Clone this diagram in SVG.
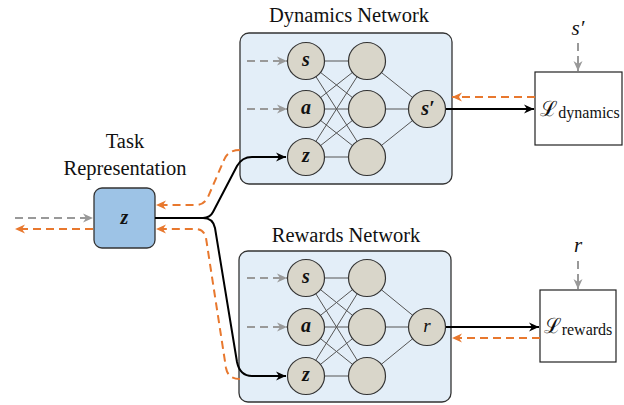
<svg xmlns="http://www.w3.org/2000/svg" width="624" height="405" viewBox="0 0 624 405">
<defs>
<style>
text{font-family:'Liberation Serif','Times New Roman',Times,'DejaVu Serif',serif}
.title{font-size:20.5px;fill:#111;text-anchor:middle}
.net{fill:#E3EEF8;stroke:#333;stroke-width:1.3}
.node{fill:#D9D6CA;stroke:#333;stroke-width:1.2}
.lbl{font-size:20px;font-weight:bold;font-style:italic;fill:#111;text-anchor:middle}
.mlbl{font-size:21px;font-style:italic;fill:#111;text-anchor:middle}
.conn{stroke:#555;stroke-width:1;fill:none}
.blk{stroke:#000;stroke-width:2;fill:none}
.gry{stroke:#999;stroke-width:2;fill:none;stroke-dasharray:8 5}
.org{stroke:#E8782E;stroke-width:2;fill:none;stroke-dasharray:8 5}
.loss{fill:#fff;stroke:#222;stroke-width:1.2}
.lossT{font-size:21px;fill:#111;text-anchor:middle}
</style>
<marker id="ab" markerUnits="userSpaceOnUse" markerWidth="12" markerHeight="12" viewBox="0 0 12 12" refX="11" refY="6" orient="auto"><path d="M1,1.5 L11,6 L1,10.5 L4,6 z" fill="#000"/></marker>
<marker id="ag" markerUnits="userSpaceOnUse" markerWidth="12" markerHeight="12" viewBox="0 0 12 12" refX="11" refY="6" orient="auto"><path d="M1,1.5 L11,6 L1,10.5 L4,6 z" fill="#999"/></marker>
<marker id="ao" markerUnits="userSpaceOnUse" markerWidth="12" markerHeight="12" viewBox="0 0 12 12" refX="11" refY="6" orient="auto"><path d="M1,1.5 L11,6 L1,10.5 L4,6 z" fill="#E8782E"/></marker>
</defs>
<rect width="624" height="405" fill="#fff"/>

<g id="dynamics-network">
<text class="title" x="349" y="22">Dynamics Network</text>
<rect class="net" x="240" y="33" width="212" height="151" rx="9"/>
<g class="conn">
<path d="M306,61 L367,61 M306,61 L367,109 M306,61 L367,157 M306,109 L367,61 M306,109 L367,109 M306,109 L367,157 M306,157 L367,61 M306,157 L367,109 M306,157 L367,157 M367,61 L427,109 M367,109 L427,109 M367,157 L427,109"/>
</g>
<g id="dyn-s"><circle class="node" cx="306" cy="61" r="18.5"/><text class="lbl" x="306" y="66">s</text></g>
<g id="dyn-a"><circle class="node" cx="306" cy="109" r="18.5"/><text class="lbl" x="306" y="114">a</text></g>
<g id="dyn-z"><circle class="node" cx="306" cy="157" r="18.5"/><text class="lbl" x="306" y="162">z</text></g>
<g id="dyn-h1"><circle class="node" cx="367" cy="61" r="18.5"/></g>
<g id="dyn-h2"><circle class="node" cx="367" cy="109" r="18.5"/></g>
<g id="dyn-h3"><circle class="node" cx="367" cy="157" r="18.5"/></g>
<g id="dyn-out"><circle class="node" cx="427" cy="109" r="18.5"/><text class="lbl" x="428" y="115">s′</text></g>
</g>

<g id="rewards-network">
<text class="title" x="346" y="242">Rewards Network</text>
<rect class="net" x="239" y="251" width="212" height="151" rx="9"/>
<g class="conn">
<path d="M306,278 L367,278 M306,278 L367,327 M306,278 L367,376 M306,327 L367,278 M306,327 L367,327 M306,327 L367,376 M306,376 L367,278 M306,376 L367,327 M306,376 L367,376 M367,278 L427,327 M367,327 L427,327 M367,376 L427,327"/>
</g>
<g id="rew-s"><circle class="node" cx="306" cy="278" r="18.5"/><text class="lbl" x="306" y="283">s</text></g>
<g id="rew-a"><circle class="node" cx="306" cy="327" r="18.5"/><text class="lbl" x="306" y="332">a</text></g>
<g id="rew-z"><circle class="node" cx="306" cy="376" r="18.5"/><text class="lbl" x="306" y="381">z</text></g>
<g id="rew-h1"><circle class="node" cx="367" cy="278" r="18.5"/></g>
<g id="rew-h2"><circle class="node" cx="367" cy="327" r="18.5"/></g>
<g id="rew-h3"><circle class="node" cx="367" cy="376" r="18.5"/></g>
<g id="rew-out"><circle class="node" cx="427" cy="327" r="18.5"/><text class="mlbl" x="427" y="332" style="font-size:19px">r</text></g>
</g>

<g id="task-representation">
<text class="title" x="125" y="148">Task</text>
<text class="title" x="125" y="175">Representation</text>
<rect x="94" y="188" width="61" height="60" rx="8" fill="#9DC3E6" stroke="#333" stroke-width="1.3"/>
<text class="lbl" x="124.5" y="224">z</text>
</g>

<g id="loss-dynamics">
<rect class="loss" x="535" y="72" width="87" height="73"/>
<text class="lossT" x="580" y="116">ℒ<tspan font-size="16" dy="2">dynamics</tspan></text>
<text class="mlbl" x="578" y="35">s′</text>
</g>

<g id="loss-rewards">
<rect class="loss" x="540" y="290" width="76" height="72"/>
<text class="lossT" x="578" y="333">ℒ<tspan font-size="16" dy="2">rewards</tspan></text>
<text class="mlbl" x="578" y="252">r</text>
</g>

<g id="connectors">
<path class="gry" d="M247,61 H287" marker-end="url(#ag)"/>
<path class="gry" d="M247,109 H287" marker-end="url(#ag)"/>
<path class="gry" d="M247,278 H287" marker-end="url(#ag)"/>
<path class="gry" d="M247,327 H287" marker-end="url(#ag)"/>
<path class="blk" d="M155,218 H203 Q210,218 213,212 L237,166 Q242,157 252,157 H286" marker-end="url(#ab)"/>
<path class="blk" d="M203,218 Q213,218 215,228 L237,362 Q240,376 252,376 H286" marker-end="url(#ab)"/>
<path class="org" d="M240,150 Q228,150 224,160 L208,197 Q204,205 196,205 H156" marker-end="url(#ao)"/>
<path class="org" d="M240,379 Q228,379 226,368 L206,238 Q204,229 196,229 H156" marker-end="url(#ao)"/>
<path class="gry" d="M15,218 H93" marker-end="url(#ag)"/>
<path class="org" d="M93,229 H15" marker-end="url(#ao)"/>
<path class="blk" d="M446,109 H534" marker-end="url(#ab)"/>
<path class="org" d="M535,97 H452" marker-end="url(#ao)"/>
<path class="gry" d="M578,43 V71" marker-end="url(#ag)"/>
<path class="blk" d="M446,327 H539" marker-end="url(#ab)"/>
<path class="org" d="M540,338 H452" marker-end="url(#ao)"/>
<path class="gry" d="M578,261 V289" marker-end="url(#ag)"/>
</g>
</svg>
